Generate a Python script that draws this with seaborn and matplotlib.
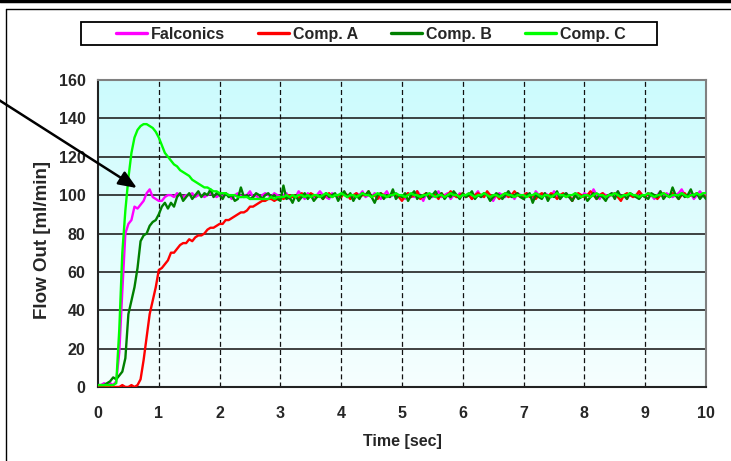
import numpy as np
import pandas as pd
import matplotlib
matplotlib.use("Agg")
import matplotlib.pyplot as plt
from matplotlib.lines import Line2D
from matplotlib.patches import Rectangle
from matplotlib.colors import LinearSegmentedColormap
import seaborn as sns

# ---------------- data ----------------
series_names = ["Falconics", "Comp. A", "Comp. B", "Comp. C"]
series_colors = ["#ff00ff", "#ff0000", "#008000", "#00ff00"]
time_step = 0.05
x_ticks = [0, 1, 2, 3, 4, 5, 6, 7, 8, 9, 10]
y_ticks = [0, 20, 40, 60, 80, 100, 120, 140, 160]

falconics = [
    1, 1, 2, 1, 2, 1, 3, 18, 50, 80, 85, 87, 94, 93, 95, 97, 101, 103, 99, 98,
    97, 97, 99, 100, 100, 99, 101, 100, 99, 100, 100, 101, 99, 100, 100, 99, 100, 101, 100, 99,
    100, 99, 101, 100, 98, 100, 101, 99, 100, 100, 102, 99, 100, 98, 100, 101, 100, 99, 101, 100,
    99, 100, 101, 98, 100, 99, 102, 100, 98, 101, 100, 99, 100, 102, 100, 99, 98, 101, 100, 99,
    100, 101, 99, 100, 98, 101, 100, 102, 99, 100, 99, 101, 100, 98, 100, 102, 99, 100, 101, 99,
    100, 98, 101, 100, 99, 102, 100, 97, 101, 100, 99, 100, 102, 99, 100, 101, 98, 100, 99, 101,
    100, 99, 101, 98, 100, 102, 99, 100, 101, 99, 97, 100, 101, 100, 99, 102, 100, 98, 101, 100,
    99, 101, 100, 98, 102, 100, 99, 101, 100, 99, 102, 100, 98, 100, 101, 99, 97, 101, 100, 99,
    101, 100, 99, 103, 100, 98, 101, 100, 99, 101, 100, 102, 99, 100, 98, 101, 100, 99, 102, 100,
    99, 101, 100, 98, 100, 102, 99, 101, 100, 99, 100, 101, 103, 100, 99, 101, 98, 100, 102, 100,
    101,
]
comp_a = [
    0, 0, 0, 0, 1, 0, 0, 0, 1, 0, 0, 1, 0, 1, 4, 14, 26, 38, 45, 52,
    61, 62, 64, 66, 70, 70, 72, 74, 75, 75, 77, 76, 78, 79, 79, 80, 82, 83, 83, 84,
    85, 85, 87, 87, 88, 89, 90, 91, 91, 92, 94, 94, 95, 96, 97, 97, 98, 98, 97, 98,
    99, 98, 99, 100, 99, 100, 98, 101, 100, 99, 101, 100, 99, 100, 98, 100, 101, 99, 100, 100,
    99, 101, 100, 98, 100, 101, 99, 100, 100, 102, 99, 100, 98, 101, 100, 99, 100, 101, 100, 99,
    97, 100, 101, 99, 100, 102, 98, 100, 101, 99, 100, 100, 98, 101, 99, 100, 102, 100, 99, 100,
    101, 99, 100, 98, 100, 101, 100, 99, 102, 100, 99, 100, 98, 100, 101, 99, 100, 102, 100, 99,
    100, 101, 99, 100, 98, 100, 101, 100, 99, 101, 100, 98, 100, 101, 99, 100, 97, 100, 101, 100,
    99, 100, 102, 100, 98, 100, 101, 99, 100, 100, 101, 99, 97, 100, 101, 100, 99, 100, 102, 100,
    99, 101, 100, 100, 98, 100, 101, 100, 99, 101, 100, 98, 100, 101, 99, 100, 100, 101, 99, 100,
    99,
]
comp_b = [
    1, 1, 1, 2, 3, 5, 4, 6, 8, 15, 38, 45, 52, 62, 76, 79, 80, 84, 86, 87,
    90, 94, 96, 93, 96, 94, 99, 101, 97, 99, 101, 98, 100, 102, 99, 101, 100, 103, 99, 101,
    100, 98, 101, 99, 100, 97, 98, 104, 99, 100, 98, 99, 101, 100, 98, 100, 101, 99, 100, 98,
    97, 105, 98, 99, 96, 100, 97, 99, 101, 98, 100, 97, 99, 100, 98, 101, 99, 100, 101, 97,
    100, 102, 99, 101, 97, 100, 98, 101, 100, 102, 99, 96, 100, 101, 98, 100, 99, 103, 98, 100,
    99, 101, 97, 100, 102, 98, 100, 99, 101, 98, 100, 102, 99, 101, 98, 100, 99, 102, 100, 98,
    101, 99, 100, 102, 98, 100, 99, 101, 100, 97, 99, 101, 100, 98, 100, 102, 99, 100, 101, 99,
    98, 100, 101, 96, 100, 99, 98, 101, 97, 100, 99, 102, 98, 100, 101, 99, 97, 100, 98, 99,
    100, 97, 99, 101, 98, 100, 99, 97, 100, 101, 98, 102, 99, 100, 98, 101, 100, 99, 98, 100,
    99, 98, 101, 100, 99, 102, 98, 100, 99, 104, 100, 98, 101, 99, 100, 103, 99, 101, 98, 100,
    98,
]
comp_c = [
    1, 1, 1, 1, 1, 1, 2, 30, 70, 92, 109, 122, 130, 134, 136, 137, 137, 136, 135, 133,
    130, 126, 122, 120, 118, 116, 115, 113, 112, 111, 110, 108, 107, 106, 105, 104, 104, 103, 102, 102,
    101, 101, 101, 100, 100, 100, 99, 99, 99, 99, 98, 98, 98, 98, 98, 98, 98, 99, 98, 99,
    99, 99, 100, 99, 100, 99, 100, 100, 99, 100, 99, 100, 100, 99, 100, 101, 100, 99, 100, 100,
    101, 100, 99, 100, 100, 99, 100, 101, 100, 100, 99, 100, 101, 100, 100, 99, 100, 100, 101, 100,
    100, 99, 100, 101, 100, 100, 99, 100, 100, 101, 100, 99, 100, 100, 99, 100, 101, 100, 100, 99,
    100, 100, 101, 100, 99, 100, 100, 101, 100, 99, 100, 100, 99, 100, 101, 100, 100, 99, 100, 100,
    100, 99, 100, 100, 101, 100, 99, 100, 100, 99, 100, 101, 100, 100, 99, 100, 100, 101, 100, 99,
    100, 100, 99, 100, 101, 100, 100, 99, 100, 100, 101, 100, 99, 100, 100, 101, 100, 100, 99, 100,
    100, 101, 100, 99, 100, 100, 101, 100, 99, 100, 100, 100, 101, 100, 99, 100, 100, 101, 100, 101,
    101,
]

all_values = [falconics, comp_a, comp_b, comp_c]
frames = []
for name, vals in zip(series_names, all_values):
    t = np.arange(len(vals)) * time_step
    frames.append(pd.DataFrame({"Time": t, "Flow": vals, "Series": name}))
df = pd.concat(frames, ignore_index=True)

# ---------------- style ----------------
sns.set_style("white")
bold_font = ["Liberation Sans", "DejaVu Sans"]
plt.rcParams["font.family"] = bold_font

W, H = 731, 461
fig = plt.figure(figsize=(W / 100, H / 100), dpi=100)
fig.patch.set_facecolor("white")

def fx(px):
    return px / W

def fy(py):
    return 1 - py / H

ax = fig.add_axes([fx(98), fy(387), fx(706) - fx(98), fy(80) - fy(387)])

# gradient background
cmap = LinearSegmentedColormap.from_list("bg", ["#f6ffff", "#ccfbfd"])
grad = np.linspace(0, 1, 256).reshape(-1, 1)
ax.imshow(grad, extent=[0, 10, 0, 160], origin="lower", aspect="auto",
          cmap=cmap, zorder=0, interpolation="bicubic")

sns.lineplot(data=df, x="Time", y="Flow", hue="Series", hue_order=series_names,
             palette=series_colors, estimator=None, sort=False, linewidth=1.7,
             legend=False, ax=ax, zorder=3)

ax.set_xlim(0, 10)
ax.set_ylim(0, 160)
ax.set_xticks(x_ticks)
ax.set_yticks(y_ticks)
ax.set_xticklabels([str(v) for v in x_ticks], fontweight="bold", fontsize=11.5)
ax.set_yticklabels([str(v) for v in y_ticks], fontweight="bold", fontsize=11.5)

# grid
for yv in y_ticks[1:-1]:
    ax.axhline(yv, color="#222222", linewidth=1.2, zorder=1)
for xv in x_ticks[1:-1]:
    ax.axvline(xv, color="#111111", linewidth=0.9, linestyle=(0, (4, 2.5)), zorder=1)

for side in ["top", "right"]:
    ax.spines[side].set_color("#808080")
    ax.spines[side].set_linewidth(1.5)
ax.spines["left"].set_color("#222222")
ax.spines["bottom"].set_color("#222222")
ax.spines["left"].set_linewidth(1.5)
ax.spines["bottom"].set_linewidth(1.5)
ax.tick_params(axis="both", direction="out", length=5, width=1.3, color="#222222",
               pad=4)
ax.tick_params(axis="x", pad=9)

ax.set_xlabel("Time [sec]", fontweight="bold", fontsize=11.5)
ax.set_ylabel("Flow Out [ml/min]", fontweight="bold", fontsize=13.5)
ax.xaxis.set_label_coords(0.5, -0.152)
ax.yaxis.set_label_coords(-0.078, 0.479)

# arrow
ax.annotate("", xy=(0.64, 103.7), xytext=(-1.65, 150), xycoords="data",
            textcoords="data", annotation_clip=False,
            arrowprops=dict(arrowstyle="-|>,head_length=1.1,head_width=0.45",
                            color="black", lw=1.8, shrinkA=0, shrinkB=0),
            zorder=5)

# legend (frame drawn separately)
fig.add_artist(Rectangle((fx(81), fy(45.5)), fx(657) - fx(81), fy(22) - fy(45.5),
                         transform=fig.transFigure, facecolor="white",
                         edgecolor="black", linewidth=1.3, zorder=1))
handles = [Line2D([0], [0], color=c, lw=2.4) for c in series_colors]
leg = fig.legend(handles, series_names, ncol=4, loc="center left",
                 bbox_to_anchor=(fx(116), fy(34.5)), frameon=False,
                 handlelength=1.94, handletextpad=0.25, columnspacing=2.07,
                 borderpad=0.0, borderaxespad=0.0,
                 prop={"family": bold_font, "weight": "bold", "size": 11.5})
leg.set_zorder(2)

# outer frame lines
fig.add_artist(Line2D([0, 1], [fy(1), fy(1)], color="black", lw=2.5,
                      transform=fig.transFigure))
fig.add_artist(Line2D([fx(6), fx(6)], [fy(9), 0], color="black", lw=1.0,
                      transform=fig.transFigure))
fig.add_artist(Line2D([fx(6), 1], [fy(9), fy(9)], color="black", lw=1.0,
                      transform=fig.transFigure))

fig.savefig("out.png", dpi=100)
